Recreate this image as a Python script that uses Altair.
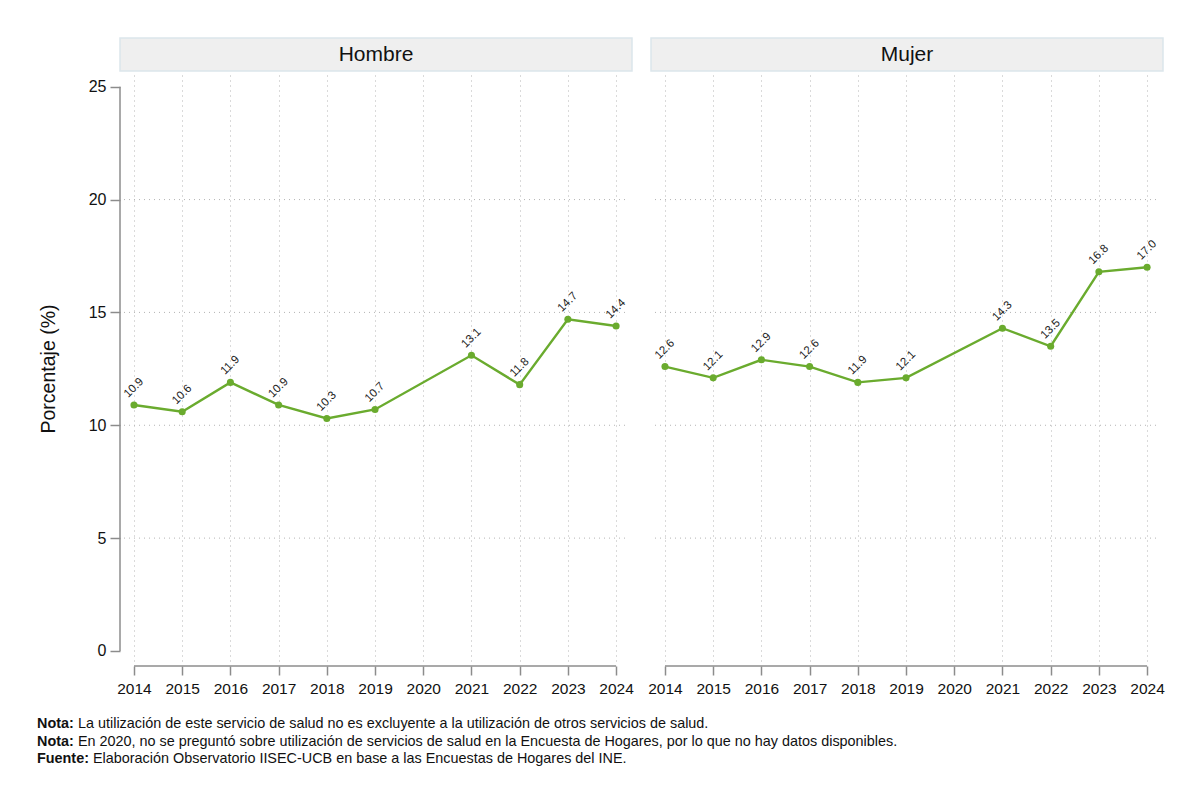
import altair as alt
import pandas as pd

# ---------------- data ----------------
years = [2014, 2015, 2016, 2017, 2018, 2019, 2021, 2022, 2023, 2024]
hombre = [10.9, 10.6, 11.9, 10.9, 10.3, 10.7, 13.1, 11.8, 14.7, 14.4]
mujer = [12.6, 12.1, 12.9, 12.6, 11.9, 12.1, 14.3, 13.5, 16.8, 17.0]
panels = ["Hombre", "Mujer"]
x_ticks = [2014, 2015, 2016, 2017, 2018, 2019, 2020, 2021, 2022, 2023, 2024]
y_ticks = [0, 5, 10, 15, 20, 25]
y_grid = [5, 10, 15, 20]
y_title = "Porcentaje (%)"
note_prefix = ["Nota:", "Nota:", "Fuente:"]
note_text = [
    "La utilización de este servicio de salud no es excluyente a la utilización de otros servicios de salud.",
    "En 2020, no se preguntó sobre utilización de servicios de salud en la Encuesta de Hogares, por lo que no hay datos disponibles.",
    "Elaboración Observatorio IISEC-UCB en base a las Encuestas de Hogares del INE.",
]

# ---------------- style ----------------
FONT = "Liberation Sans, Arial, sans-serif"
GREEN = "#6AAB2E"
AXIS_GRAY = "#8C8C8C"
GRID_GRAY = "#B4B4B4"
TXT = "#111111"
W, H = 512, 587
XDOM = [2013.71, 2024.33]
YDOM = [-0.49, 25.52]

xs = alt.Scale(domain=XDOM, nice=False, zero=False)
ys = alt.Scale(domain=YDOM, nice=False, zero=False)

XAXIS = alt.Axis(values=x_ticks, format="d", offset=4, domain=False,
                 tickSize=9, tickWidth=1.5, tickColor=AXIS_GRAY,
                 labelFontSize=15.5, labelFont=FONT, labelColor=TXT,
                 labelPadding=6, grid=True, gridDash=[1, 4],
                 gridColor=GRID_GRAY, gridWidth=1)
YAXIS = alt.Axis(values=y_ticks, domain=False, tickSize=10, tickWidth=1.5,
                 tickColor=AXIS_GRAY, labelFontSize=16, labelFont=FONT,
                 labelColor=TXT, labelPadding=4, grid=False,
                 titleFont=FONT, titleFontSize=19.5, titleFontWeight="normal",
                 titleColor=TXT, titleX=-72, titleAngle=270,
                 titleBaseline="middle", titleAlign="center")


def panel(name, values, left):
    df = pd.DataFrame({"year": years, "value": values})

    def X(f):
        return alt.X(f, scale=xs, axis=XAXIS, title=None)

    def Y(f):
        if left:
            return alt.Y(f, scale=ys, axis=YAXIS, title=y_title)
        return alt.Y(f, scale=ys, axis=None)

    strip = alt.Chart(pd.DataFrame({"p": [name]})).mark_rect(
        fill="#EFEFEF", stroke="#DCE6EC", strokeWidth=1.5
    ).encode(x=alt.value(0), x2=alt.value(W), y=alt.value(-37), y2=alt.value(-4))
    strip_txt = alt.Chart(pd.DataFrame({"p": [name]})).mark_text(
        font=FONT, fontSize=21, color=TXT, align="center", baseline="middle"
    ).encode(x=alt.value(W / 2), y=alt.value(-20), text="p:N")

    hgrid = alt.Chart(pd.DataFrame({"g": y_grid})).mark_rule(
        strokeDash=[1, 4], color=GRID_GRAY, strokeWidth=1
    ).encode(y=Y("g:Q"), x=alt.value(4), x2=alt.value(W - 4))

    xline = alt.Chart(pd.DataFrame({"a": [x_ticks[0]], "b": [x_ticks[-1]]})).mark_rule(
        color=AXIS_GRAY, strokeWidth=1.5
    ).encode(x=X("a:Q"), x2="b:Q", y=alt.value(H + 4))

    line = alt.Chart(df).mark_line(color=GREEN, strokeWidth=2.4).encode(
        x=X("year:Q"), y=Y("value:Q"))
    pts = alt.Chart(df).mark_point(filled=True, size=50, color=GREEN, opacity=1).encode(
        x=X("year:Q"), y=Y("value:Q"))
    lbl = alt.Chart(df).mark_text(
        angle=315, yOffset=-17, font=FONT, fontSize=11.5, color="#222222",
        align="center", baseline="middle"
    ).encode(x=X("year:Q"), y=Y("value:Q"),
             text=alt.Text("value:Q", format=".1f"))

    layers = [strip, strip_txt, hgrid, xline, line, pts, lbl]
    if left:
        yline = alt.Chart(pd.DataFrame({"a": [y_ticks[0]], "b": [y_ticks[-1]]})).mark_rule(
            color=AXIS_GRAY, strokeWidth=1.5
        ).encode(y=Y("a:Q"), y2="b:Q", x=alt.value(0))
        layers.append(yline)
        offsets = [-42, -42, -27]
        for i in range(3):
            yy = 649 + 17.5 * i
            pre = alt.Chart(pd.DataFrame({"t": [note_prefix[i]]})).mark_text(
                font=FONT, fontSize=14.4, fontWeight="bold", color=TXT,
                align="left", baseline="middle"
            ).encode(x=alt.value(-83), y=alt.value(yy), text="t:N")
            txt = alt.Chart(pd.DataFrame({"t": [note_text[i]]})).mark_text(
                font=FONT, fontSize=14.4, color=TXT, align="left", baseline="middle"
            ).encode(x=alt.value(offsets[i]), y=alt.value(yy), text="t:N")
            layers += [pre, txt]
    return alt.layer(*layers).properties(width=W, height=H)


chart = alt.hconcat(
    panel(panels[0], hombre, True),
    panel(panels[1], mujer, False),
    spacing=19, bounds="flush"
).properties(
    padding={"left": 37, "top": 37, "right": 5, "bottom": 5},
    background="white"
).configure_view(stroke=None)

chart.save("out.html", embed_options={"renderer": "svg", "actions": False})
